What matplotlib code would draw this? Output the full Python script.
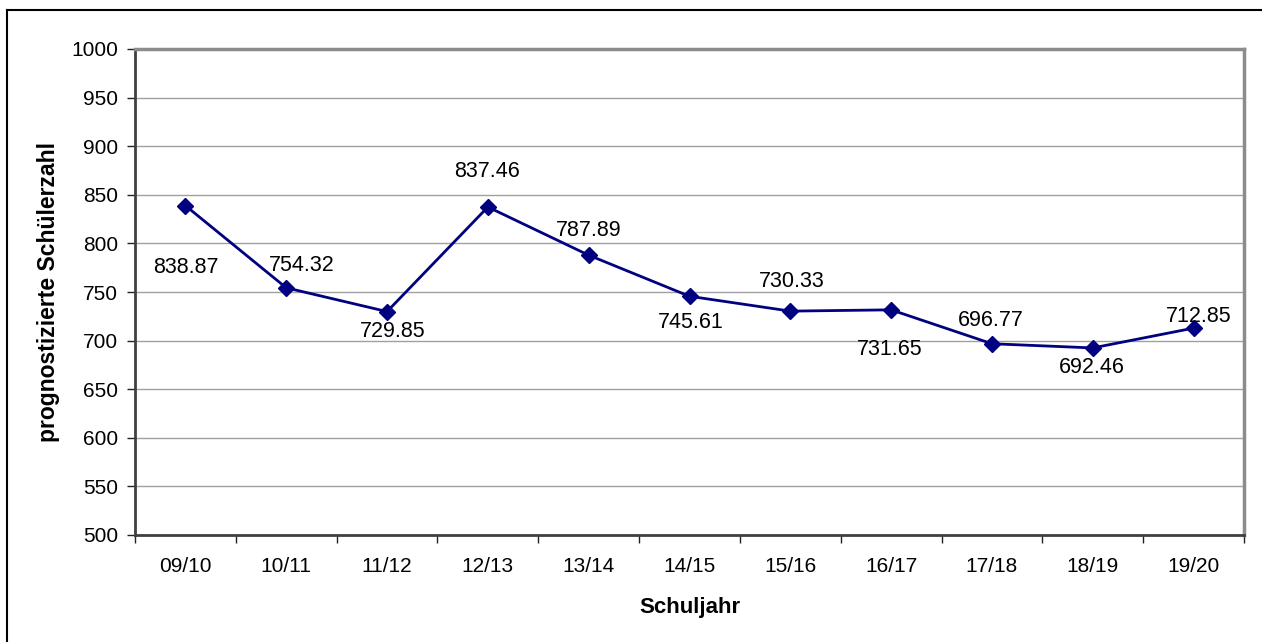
import matplotlib.pyplot as plt
from matplotlib.lines import Line2D
import numpy as np

plt.rcParams['font.family'] = ['Liberation Sans', 'DejaVu Sans']

schuljahre = ['09/10', '10/11', '11/12', '12/13', '13/14', '14/15',
              '15/16', '16/17', '17/18', '18/19', '19/20']
schueler = [838.87, 754.32, 729.85, 837.46, 787.89, 745.61,
            730.33, 731.65, 696.77, 692.46, 712.85]
# Lage der Beschriftung relativ zum Punkt (Pixel)
label_offsets = [(0, -62), (16, 22), (6, -20), (-1, 35), (0, 25), (1, -26),
                 (1, 30), (-1, -40), (-1, 23), (-1, -20), (5, 12)]

fig = plt.figure(figsize=(12.62, 6.42), dpi=100)
ax = fig.add_axes([135 / 1262, 1 - 535 / 642, 1109 / 1262, 486 / 642])

x = np.arange(len(schuljahre))
ax.plot(x, schueler, color='#000080', lw=2, marker='D', ms=8,
        markerfacecolor='#000080', markeredgecolor='#000080', zorder=3)

for xi, wert, (dx, dy) in zip(x, schueler, label_offsets):
    ax.annotate(f'{wert:.2f}', (xi, wert), xytext=(dx, dy),
                textcoords='offset pixels', ha='center', va='center',
                fontsize=15.5, color='black')

ax.set_xlim(-0.5, len(schuljahre) - 0.5)
ax.set_ylim(500, 1000)
ax.set_yticks(np.arange(500, 1001, 50))
ax.yaxis.grid(True, color='#a0a0a0', lw=1)
ax.set_axisbelow(True)

ax.set_xticks(x)
ax.set_xticklabels(schuljahre)
ax.set_xticks(np.arange(-0.5, len(schuljahre)), minor=True)
ax.tick_params(axis='x', which='major', length=0, pad=16, labelsize=15)
ax.tick_params(axis='x', which='minor', length=6, width=1, color='#222222')
ax.tick_params(axis='y', length=6, width=1, color='#222222', pad=6,
               labelsize=15)

ax.spines['left'].set_color('#404040')
ax.spines['left'].set_linewidth(2)
ax.spines['bottom'].set_color('#404040')
ax.spines['bottom'].set_linewidth(2)
ax.spines['top'].set_color('#8c8c8c')
ax.spines['top'].set_linewidth(2.5)
ax.spines['right'].set_color('#8c8c8c')
ax.spines['right'].set_linewidth(2.5)

ax.set_xlabel('Schuljahr', fontsize=16, fontweight='bold', labelpad=15)
ax.set_ylabel('prognostizierte Schülerzahl', fontsize=16.5,
              fontweight='bold', labelpad=8)

# Rahmen der Grafik (nur oben und links sichtbar)
fig.add_artist(Line2D([7 / 1262, 7 / 1262], [0, 1 - 10 / 642],
                      transform=fig.transFigure, color='black', lw=1.5))
fig.add_artist(Line2D([7 / 1262, 1], [1 - 10 / 642, 1 - 10 / 642],
                      transform=fig.transFigure, color='black', lw=1.5))

fig.savefig('out.png', dpi=100)
